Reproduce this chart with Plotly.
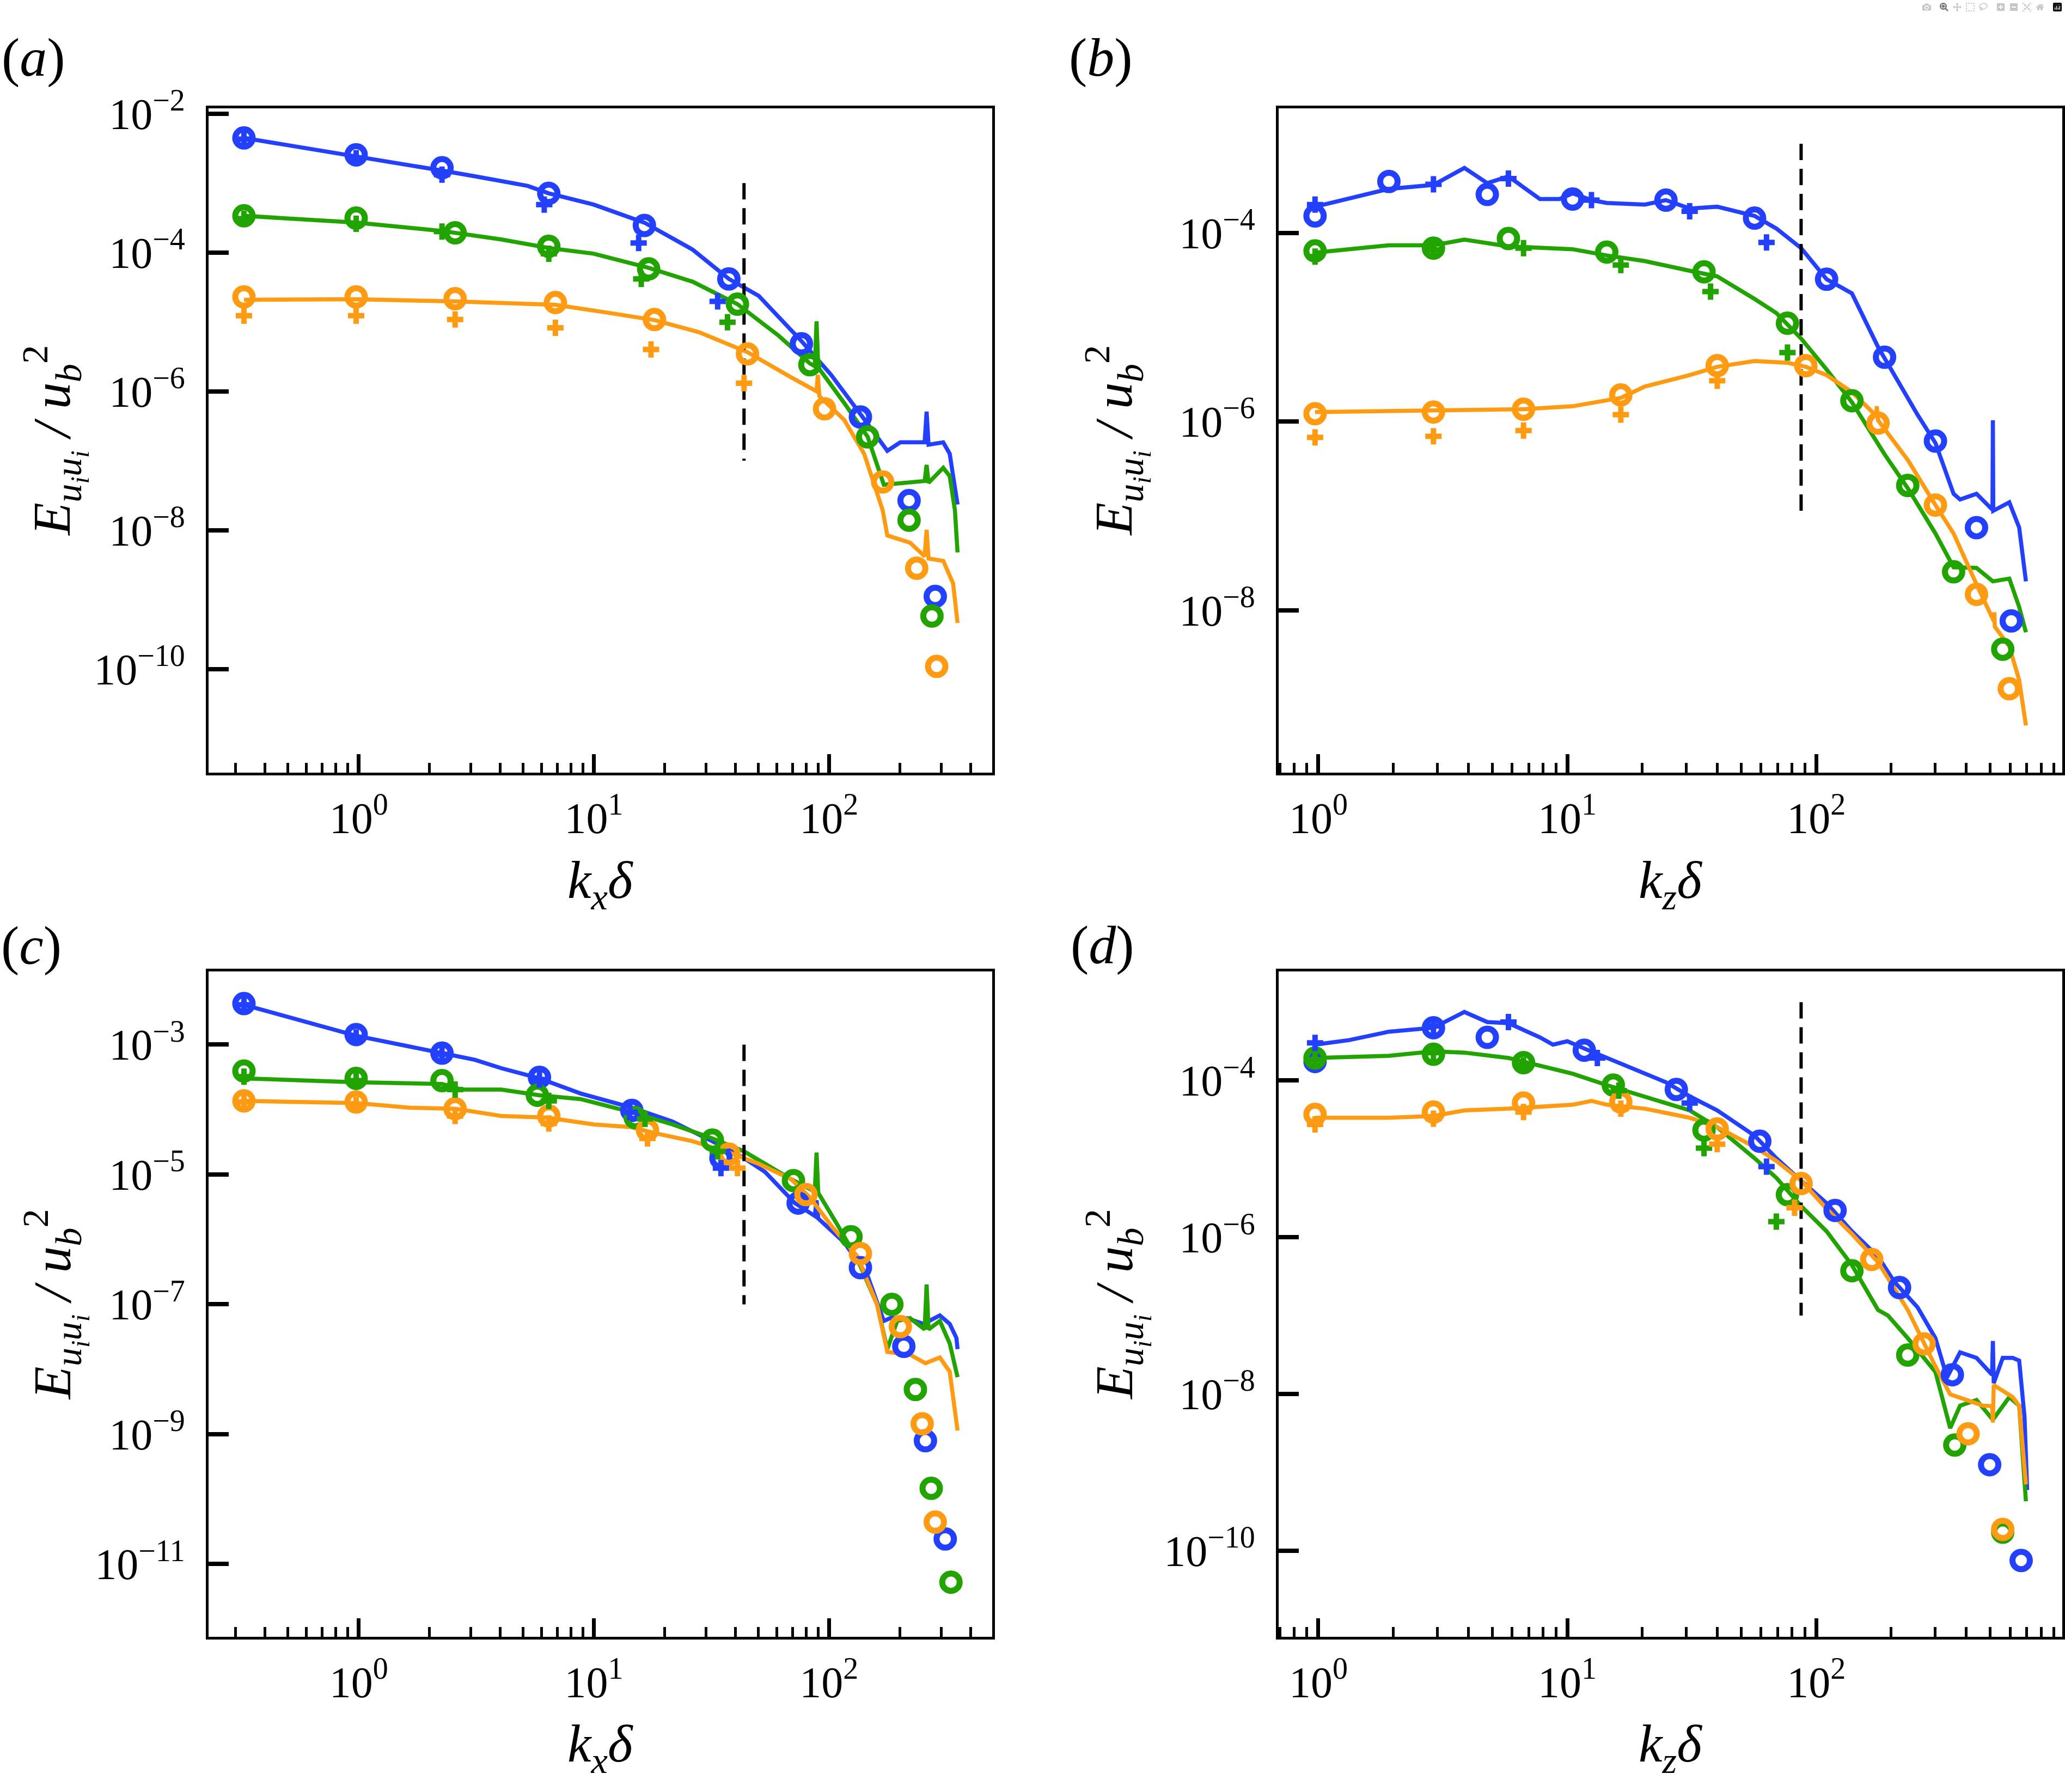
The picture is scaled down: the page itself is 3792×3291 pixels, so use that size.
import plotly.graph_objects as go

# ---------------- colours ----------------
BLUE = "#2340FF"
GREEN = "#21A300"
ORANGE = "#FF9B13"

# ---------------- panel (a): streamwise spectra ----------------
A_BLUE_LINE_K = [0.325, 0.975, 2.26, 3.12, 5.23, 6.43, 9.97, 16.4, 26.3, 37.5, 50.2, 76.3, 102, 136, 177, 201, 244, 255, 260, 265, 306, 326, 343, 352]
A_BLUE_LINE_E = [4.46e-3, 2.45e-3, 1.51e-3, 1.25e-3, 9.1e-4, 7.1e-4, 4.9e-4, 2.69e-4, 1.10e-4, 4.16e-5, 2.38e-5, 5.3e-6, 1.73e-6, 4.7e-7, 1.39e-7, 1.84e-7, 1.84e-7, 1.84e-7, 5.1e-7, 1.7e-7, 1.84e-7, 1.26e-7, 4.1e-8, 2.34e-8]
A_GREEN_LINE_K = [0.325, 0.975, 2.26, 4.04, 6.43, 9.97, 17.1, 26.3, 40.8, 60.8, 82.9, 87, 88.5, 90, 116, 146, 171, 221, 255, 260, 265, 306, 326, 343, 352]
A_GREEN_LINE_E = [3.37e-4, 2.69e-4, 2.04e-4, 1.54e-4, 1.16e-4, 9.6e-5, 6.0e-5, 3.79e-5, 1.80e-5, 6.4e-6, 2.52e-6, 2.3e-6, 1.02e-5, 2.2e-6, 6.8e-7, 2.21e-7, 4.51e-8, 4.95e-8, 5.1e-8, 8.7e-8, 4.8e-8, 7.9e-8, 6.0e-8, 1.95e-8, 4.78e-9]
A_ORANGE_LINE_K = [0.325, 0.975, 2.57, 4.04, 6.86, 11.4, 18.1, 28.0, 45.0, 69.2, 88.5, 89.6, 91, 116, 141, 169, 177, 221, 255, 260, 265, 306, 337, 352]
A_ORANGE_LINE_E = [2.08e-5, 2.12e-5, 1.97e-5, 1.86e-5, 1.76e-5, 1.36e-5, 1.06e-5, 7.1e-6, 3.66e-6, 1.58e-6, 1.0e-6, 1.73e-6, 8.5e-7, 3.88e-7, 1.26e-7, 1.95e-8, 8.4e-9, 6.6e-9, 4.2e-9, 1.01e-8, 3.9e-9, 3.61e-9, 1.71e-9, 4.6e-10]

A_BLUE_CIRC_K = [0.325, 0.975, 2.26, 6.43, 16.4, 37.5, 76.3, 136, 219, 283]
A_BLUE_CIRC_E = [4.46e-3, 2.55e-3, 1.66e-3, 7.1e-4, 2.45e-4, 4.16e-5, 4.84e-6, 4.26e-7, 2.67e-8, 1.11e-9]
A_BLUE_PLUS_K = [0.325, 0.975, 2.26, 6.15, 15.5, 33.6]
A_BLUE_PLUS_E = [4.3e-3, 2.28e-3, 1.32e-3, 4.9e-4, 1.37e-4, 1.97e-5]
A_GREEN_CIRC_K = [0.325, 0.975, 2.57, 6.43, 17.1, 40.8, 82.9, 146, 219, 274]
A_GREEN_CIRC_E = [3.37e-4, 3.13e-4, 1.92e-4, 1.23e-4, 5.8e-5, 1.80e-5, 2.42e-6, 2.21e-7, 1.39e-8, 5.8e-10]
A_GREEN_PLUS_K = [0.325, 0.975, 2.26, 6.43, 15.9, 37.0]
A_GREEN_PLUS_E = [3.07e-4, 2.59e-4, 2.0e-4, 9.6e-5, 4.16e-5, 9.9e-6]
A_ORANGE_CIRC_K = [0.325, 0.975, 2.57, 6.86, 18.1, 45.0, 95.7, 169, 236, 287]
A_ORANGE_CIRC_E = [2.29e-5, 2.29e-5, 2.16e-5, 1.90e-5, 1.08e-5, 3.46e-6, 5.6e-7, 4.95e-8, 2.83e-9, 1.09e-10]
A_ORANGE_PLUS_K = [0.325, 0.975, 2.57, 6.86, 17.5, 43.5]
A_ORANGE_PLUS_E = [1.23e-5, 1.23e-5, 1.08e-5, 8.2e-6, 4.0e-6, 1.31e-6]

# ---------------- panel (b): spanwise spectra ----------------
B_BLUE_LINE_K = [0.97, 1.92, 2.90, 3.86, 4.77, 5.80, 7.76, 9.31, 10.5, 12.5, 14.4, 20.5, 24.9, 31.0, 40.0, 56.5, 69.1, 86.9, 110, 139, 177, 188, 255, 301, 356, 378, 440, 510, 512, 514, 596, 653, 695]
B_BLUE_LINE_E = [1.89e-4, 2.92e-4, 3.22e-4, 4.87e-4, 3.36e-4, 3.96e-4, 2.28e-4, 2.28e-4, 2.62e-4, 2.22e-4, 2.07e-4, 1.99e-4, 2.22e-4, 1.81e-4, 1.89e-4, 1.51e-4, 1.11e-4, 6.88e-5, 3.22e-5, 2.28e-5, 6.17e-6, 4.68e-6, 1.18e-6, 5.91e-7, 1.71e-7, 1.49e-7, 1.71e-7, 1.16e-7, 1.03e-6, 1.13e-7, 1.39e-7, 7.5e-8, 2.02e-8]
B_GREEN_LINE_K = [0.97, 1.92, 2.90, 3.86, 5.80, 7.76, 10.5, 14.4, 20.5, 31.0, 40.0, 56.5, 69.1, 86.9, 110, 139, 188, 233, 301, 356, 440, 512, 596, 653, 695]
B_GREEN_LINE_E = [6.16e-5, 7.37e-5, 7.37e-5, 8.46e-5, 7.17e-5, 6.88e-5, 6.7e-5, 5.75e-5, 5.01e-5, 3.96e-5, 3.45e-5, 1.99e-5, 1.41e-5, 7.57e-6, 3.55e-6, 1.60e-6, 4.49e-7, 1.96e-7, 6.5e-8, 2.85e-8, 2.8e-8, 2.02e-8, 2.16e-8, 1.08e-8, 5.83e-9]
B_ORANGE_LINE_K = [0.97, 2.90, 4.77, 6.67, 10.5, 16.4, 20.5, 31.0, 40.0, 56.5, 76.6, 90.8, 110, 139, 174, 175, 177, 233, 301, 356, 440, 517, 519, 521, 596, 653, 695]
B_ORANGE_LINE_E = [1.26e-6, 1.30e-6, 1.32e-6, 1.35e-6, 1.45e-6, 1.78e-6, 2.35e-6, 3.10e-6, 3.80e-6, 4.37e-6, 4.19e-6, 3.80e-6, 3.10e-6, 2.05e-6, 1.15e-6, 1.45e-6, 1.03e-6, 3.91e-7, 1.30e-7, 6.5e-8, 1.88e-8, 7.6e-9, 9.5e-9, 6.7e-9, 4.13e-9, 1.81e-9, 6.0e-10]

B_BLUE_CIRC_K = [0.97, 1.92, 4.77, 10.5, 24.9, 56.5, 110, 188, 301, 440, 607]
B_BLUE_CIRC_E = [1.51e-4, 3.50e-4, 2.55e-4, 2.28e-4, 2.22e-4, 1.43e-4, 3.22e-5, 4.8e-6, 6.2e-7, 7.5e-8, 7.7e-9]
B_BLUE_PLUS_K = [0.97, 2.90, 5.80, 12.5, 31.0, 63.1]
B_BLUE_PLUS_E = [1.99e-4, 3.27e-4, 3.75e-4, 2.22e-4, 1.69e-4, 7.9e-5]
B_GREEN_CIRC_K = [0.97, 2.90, 5.80, 14.4, 35.4, 76.6, 139, 233, 356, 561]
B_GREEN_CIRC_E = [6.42e-5, 6.88e-5, 8.7e-5, 6.25e-5, 3.86e-5, 1.10e-5, 1.66e-6, 2.10e-7, 2.55e-8, 3.86e-9]
B_GREEN_PLUS_K = [0.97, 2.90, 6.67, 16.4, 37.6, 76.6]
B_GREEN_PLUS_E = [5.6e-5, 6.6e-5, 6.88e-5, 4.55e-5, 2.38e-5, 5.37e-6]
B_ORANGE_CIRC_K = [0.97, 2.90, 6.67, 16.4, 40.0, 90.8, 177, 301, 440, 596]
B_ORANGE_CIRC_E = [1.21e-6, 1.26e-6, 1.35e-6, 1.91e-6, 3.91e-6, 3.91e-6, 9.6e-7, 1.30e-7, 1.47e-8, 1.47e-9]
B_ORANGE_PLUS_K = [0.97, 2.90, 6.67, 16.4, 40.0]
B_ORANGE_PLUS_E = [6.79e-7, 6.97e-7, 8.0e-7, 1.18e-6, 2.70e-6]

# ---------------- panel (c): streamwise spectra ----------------
C_BLUE_LINE_K = [0.325, 0.975, 2.26, 3.12, 4.04, 5.87, 8.77, 14.5, 21.6, 31.9, 43.5, 53.5, 71.5, 87, 88.5, 90, 116, 146, 171, 182, 214, 252, 296, 326, 348, 352]
C_BLUE_LINE_E = [4.1e-3, 1.37e-3, 7.4e-4, 5.82e-4, 4.33e-4, 3.02e-4, 1.77e-4, 1.07e-4, 6.52e-5, 3.25e-5, 1.79e-5, 1.09e-5, 3.63e-6, 2.3e-6, 4.0e-6, 2.1e-6, 9.0e-7, 2.73e-7, 5.55e-8, 6.12e-8, 6.12e-8, 5.0e-8, 6.76e-8, 5.0e-8, 3.05e-8, 2.05e-8]
C_GREEN_LINE_K = [0.325, 0.975, 2.26, 2.74, 4.04, 5.87, 8.77, 14.5, 21.6, 31.9, 43.5, 53.5, 69.2, 82.9, 87, 88.5, 90, 109, 132, 160, 177, 195, 221, 255, 260, 265, 296, 326, 352]
C_GREEN_LINE_E = [3.02e-4, 2.63e-4, 2.48e-4, 2.03e-4, 2.03e-4, 1.66e-4, 1.45e-4, 9.1e-5, 5.9e-5, 3.59e-5, 2.27e-5, 1.46e-5, 8.4e-6, 5.97e-6, 5.41e-6, 2.18e-5, 5.2e-6, 1.64e-6, 4.95e-7, 1.0e-7, 2.05e-8, 5.55e-8, 6.12e-8, 4.11e-8, 2.02e-7, 4.11e-8, 5.55e-8, 2.5e-8, 7.57e-9]
C_ORANGE_LINE_K = [0.325, 0.975, 1.64, 2.57, 4.04, 6.35, 9.97, 14.5, 17.9, 26.3, 37.5, 50.2, 69.2, 82.9, 102, 132, 160, 177, 221, 257, 296, 326, 352]
C_ORANGE_LINE_E = [1.36e-4, 1.26e-4, 1.07e-4, 1.03e-4, 7.96e-5, 7.5e-5, 5.9e-5, 5.35e-5, 4.38e-5, 3.25e-5, 2.18e-5, 1.46e-5, 8.4e-6, 4.43e-6, 1.64e-6, 5.47e-7, 1.0e-7, 1.85e-8, 1.68e-8, 1.24e-8, 1.52e-8, 9.2e-9, 1.14e-9]

C_BLUE_CIRC_K = [0.325, 0.975, 2.26, 5.87, 14.5, 34.7, 73.9, 136, 208, 257, 312]
C_BLUE_CIRC_E = [4.28e-3, 1.43e-3, 7.4e-4, 3.14e-4, 9.7e-5, 1.79e-5, 3.63e-6, 3.68e-7, 2.26e-8, 7.95e-10, 2.44e-11]
C_BLUE_PLUS_K = [0.325, 0.975, 2.26, 5.87, 14.2, 34.7]
C_BLUE_PLUS_E = [4.1e-3, 1.29e-3, 7.1e-4, 2.9e-4, 9.1e-5, 1.25e-5]
C_GREEN_CIRC_K = [0.325, 0.975, 2.26, 5.75, 15.0, 31.9, 70.6, 124, 185, 233, 272, 330]
C_GREEN_CIRC_E = [3.92e-4, 3.02e-4, 2.79e-4, 1.66e-4, 7.5e-5, 3.38e-5, 8.05e-6, 1.1e-6, 1.0e-7, 4.89e-9, 1.47e-10, 5.27e-12]
C_GREEN_PLUS_K = [0.325, 0.975, 2.57, 6.43, 16.5, 33.6]
C_GREEN_PLUS_E = [3.21e-4, 2.79e-4, 2.03e-4, 1.36e-4, 7.2e-5, 2.27e-5]
C_ORANGE_CIRC_K = [0.325, 0.975, 2.57, 6.43, 16.9, 37.5, 79.8, 136, 201, 249, 283]
C_ORANGE_CIRC_E = [1.36e-4, 1.31e-4, 1.03e-4, 7.96e-5, 4.83e-5, 2.06e-5, 4.9e-6, 6.05e-7, 4.54e-8, 1.45e-9, 4.44e-11]
C_ORANGE_PLUS_K = [0.325, 0.975, 2.57, 6.43, 16.9, 40.8]
C_ORANGE_PLUS_E = [1.31e-4, 1.19e-4, 7.96e-5, 6.1e-5, 3.59e-5, 1.25e-5]

# ---------------- panel (d): spanwise spectra ----------------
D_BLUE_LINE_K = [0.97, 1.33, 1.92, 2.90, 3.86, 4.77, 5.80, 7.76, 8.76, 10.0, 11.7, 14.2, 20.5, 24.9, 31.0, 40.0, 56.5, 69.1, 86.9, 110, 139, 177, 206, 255, 301, 335, 378, 440, 508, 512, 516, 561, 615, 653, 686, 703]
D_BLUE_LINE_E = [2.87e-4, 3.28e-4, 4.2e-4, 4.72e-4, 7.5e-4, 5.57e-4, 5.4e-4, 3.56e-4, 2.87e-4, 3.17e-4, 2.56e-4, 2.0e-4, 1.22e-4, 9.5e-5, 6.29e-5, 4.16e-5, 1.98e-5, 1.02e-5, 5.27e-6, 2.72e-6, 1.19e-6, 5.66e-7, 2.69e-7, 1.28e-7, 5.15e-8, 1.62e-8, 3.4e-8, 2.89e-8, 1.76e-8, 4.74e-8, 1.37e-8, 2.89e-8, 2.89e-8, 2.66e-8, 5.1e-9, 5.94e-10]
D_GREEN_LINE_K = [0.97, 1.92, 2.90, 3.86, 5.80, 7.76, 10.5, 14.4, 20.5, 31.0, 40.0, 56.5, 69.1, 86.9, 110, 139, 177, 194, 233, 301, 345, 378, 440, 512, 596, 653, 695]
D_GREEN_LINE_E = [1.94e-4, 2.07e-4, 2.36e-4, 2.27e-4, 1.94e-4, 1.56e-4, 1.22e-4, 8.75e-5, 6.29e-5, 4.16e-5, 2.54e-5, 1.02e-5, 5.73e-6, 2.5e-6, 1.19e-6, 4.41e-7, 1.18e-7, 1.0e-7, 5.15e-8, 1.91e-8, 3.66e-9, 7.08e-9, 8.36e-9, 4.69e-9, 9.1e-9, 7.08e-9, 4.27e-10]
D_ORANGE_LINE_K = [0.97, 1.92, 2.90, 3.86, 5.80, 7.76, 10.5, 12.5, 14.4, 20.5, 31.0, 40.0, 56.5, 69.1, 86.9, 110, 139, 177, 233, 301, 345, 402, 468, 508, 512, 516, 615, 653, 695]
D_ORANGE_LINE_E = [3.35e-5, 3.35e-5, 3.53e-5, 4.16e-5, 4.37e-5, 4.67e-5, 4.91e-5, 5.5e-5, 4.91e-5, 4.37e-5, 3.35e-5, 2.54e-5, 1.42e-5, 9.4e-6, 5.27e-6, 2.31e-6, 1.1e-6, 4.8e-7, 1.18e-7, 2.25e-8, 9.87e-9, 8.36e-9, 7.08e-9, 7.0e-9, 4.32e-9, 1.3e-8, 9.1e-9, 7.08e-9, 7.0e-10]

D_BLUE_CIRC_K = [0.97, 2.90, 4.77, 11.7, 27.4, 59.3, 119, 216, 352, 497, 665]
D_BLUE_CIRC_E = [1.75e-4, 4.72e-4, 3.56e-4, 2.44e-4, 7.7e-5, 1.68e-5, 2.2e-6, 2.28e-7, 1.76e-8, 1.25e-9, 7.5e-11]
D_BLUE_PLUS_K = [0.97, 2.90, 5.80, 13.2, 31.0, 63.1]
D_BLUE_PLUS_E = [3.02e-4, 4.96e-4, 5.57e-4, 1.94e-4, 5.15e-5, 7.96e-6]
D_GREEN_CIRC_K = [0.97, 2.90, 6.67, 15.3, 35.4, 76.6, 139, 233, 360, 561]
D_GREEN_CIRC_E = [1.94e-4, 2.17e-4, 1.69e-4, 8.75e-5, 2.33e-5, 3.49e-6, 3.74e-7, 3.14e-8, 2.23e-9, 1.72e-10]
D_GREEN_PLUS_K = [0.97, 2.90, 6.67, 16.1, 35.4, 69.1]
D_GREEN_PLUS_E = [1.84e-4, 2.27e-4, 1.56e-4, 7.41e-5, 1.37e-5, 1.58e-6]
D_ORANGE_CIRC_K = [0.97, 2.90, 6.67, 16.4, 40.0, 86.9, 167, 271, 407, 561]
D_ORANGE_CIRC_E = [3.7e-5, 3.96e-5, 5.16e-5, 5.33e-5, 2.41e-5, 4.85e-6, 5.21e-7, 4.36e-8, 3.1e-9, 1.87e-10]
D_ORANGE_PLUS_K = [0.97, 2.90, 6.67, 16.4, 40.0, 81.8]
D_ORANGE_PLUS_E = [2.75e-5, 3.25e-5, 3.96e-5, 4.37e-5, 1.54e-5, 2.38e-6]

# ---------------- dashed reference lines ----------------
VLINE_KX = 43.5
VLINE_KZ = 86.9
VLINE_A_E = [1e-3, 1e-7]
VLINE_B_E = [8.8e-4, 1e-7]
VLINE_C_E = [1e-3, 1e-7]
VLINE_D_E = [1e-3, 1e-7]

# ---------------- tick labels ----------------
X_TICKS = [1, 10, 100]
X_TICKTEXT = ["10<sup>0</sup>", "10<sup>1</sup>", "10<sup>2</sup>"]
A_YTICKS = [1e-2, 1e-4, 1e-6, 1e-8, 1e-10]
A_YTICKTEXT = ["10<sup>\u22122</sup>", "10<sup>\u22124</sup>", "10<sup>\u22126</sup>", "10<sup>\u22128</sup>", "10<sup>\u221210</sup>"]
B_YTICKS = [1e-4, 1e-6, 1e-8]
B_YTICKTEXT = ["10<sup>\u22124</sup>", "10<sup>\u22126</sup>", "10<sup>\u22128</sup>"]
C_YTICKS = [1e-3, 1e-5, 1e-7, 1e-9, 1e-11]
C_YTICKTEXT = ["10<sup>\u22123</sup>", "10<sup>\u22125</sup>", "10<sup>\u22127</sup>", "10<sup>\u22129</sup>", "10<sup>\u221211</sup>"]
D_YTICKS = [1e-4, 1e-6, 1e-8, 1e-10]
D_YTICKTEXT = ["10<sup>\u22124</sup>", "10<sup>\u22126</sup>", "10<sup>\u22128</sup>", "10<sup>\u221210</sup>"]

MINOR_KX = [m * 10.0 ** p for p in (-1, 0, 1, 2) for m in range(2, 10)]

FONT = "Liberation Serif"
W, H = 3792, 3291

fig = go.Figure()


def add_panel(n, lines, circs, pluses, vline_k, vline_e):
    xr = "x" if n == 1 else "x%d" % n
    yr = "y" if n == 1 else "y%d" % n
    for (k, e), c in zip(lines, (BLUE, GREEN, ORANGE)):
        fig.add_trace(go.Scatter(x=k, y=e, mode="lines", xaxis=xr, yaxis=yr,
                                 line=dict(color=c, width=7.5), showlegend=False))
    fig.add_trace(go.Scatter(x=[vline_k, vline_k], y=vline_e, mode="lines", xaxis=xr, yaxis=yr,
                             line=dict(color="black", width=6, dash="30px,16px"), showlegend=False))
    for (k, e), c in zip(circs, (BLUE, GREEN, ORANGE)):
        fig.add_trace(go.Scatter(x=k, y=e, mode="markers", xaxis=xr, yaxis=yr,
                                 marker=dict(symbol="circle-open", size=32, color=c,
                                             line=dict(color=c, width=11)), showlegend=False))
    for (k, e), c in zip(pluses, (BLUE, GREEN, ORANGE)):
        fig.add_trace(go.Scatter(x=k, y=e, mode="markers", xaxis=xr, yaxis=yr,
                                 marker=dict(symbol="cross", size=25, color=c,
                                             line=dict(width=0)), showlegend=False))


add_panel(1,
          [(A_BLUE_LINE_K, A_BLUE_LINE_E), (A_GREEN_LINE_K, A_GREEN_LINE_E), (A_ORANGE_LINE_K, A_ORANGE_LINE_E)],
          [(A_BLUE_CIRC_K, A_BLUE_CIRC_E), (A_GREEN_CIRC_K, A_GREEN_CIRC_E), (A_ORANGE_CIRC_K, A_ORANGE_CIRC_E)],
          [(A_BLUE_PLUS_K, A_BLUE_PLUS_E), (A_GREEN_PLUS_K, A_GREEN_PLUS_E), (A_ORANGE_PLUS_K, A_ORANGE_PLUS_E)],
          VLINE_KX, VLINE_A_E)
add_panel(2,
          [(B_BLUE_LINE_K, B_BLUE_LINE_E), (B_GREEN_LINE_K, B_GREEN_LINE_E), (B_ORANGE_LINE_K, B_ORANGE_LINE_E)],
          [(B_BLUE_CIRC_K, B_BLUE_CIRC_E), (B_GREEN_CIRC_K, B_GREEN_CIRC_E), (B_ORANGE_CIRC_K, B_ORANGE_CIRC_E)],
          [(B_BLUE_PLUS_K, B_BLUE_PLUS_E), (B_GREEN_PLUS_K, B_GREEN_PLUS_E), (B_ORANGE_PLUS_K, B_ORANGE_PLUS_E)],
          VLINE_KZ, VLINE_B_E)
add_panel(3,
          [(C_BLUE_LINE_K, C_BLUE_LINE_E), (C_GREEN_LINE_K, C_GREEN_LINE_E), (C_ORANGE_LINE_K, C_ORANGE_LINE_E)],
          [(C_BLUE_CIRC_K, C_BLUE_CIRC_E), (C_GREEN_CIRC_K, C_GREEN_CIRC_E), (C_ORANGE_CIRC_K, C_ORANGE_CIRC_E)],
          [(C_BLUE_PLUS_K, C_BLUE_PLUS_E), (C_GREEN_PLUS_K, C_GREEN_PLUS_E), (C_ORANGE_PLUS_K, C_ORANGE_PLUS_E)],
          VLINE_KX, VLINE_C_E)
add_panel(4,
          [(D_BLUE_LINE_K, D_BLUE_LINE_E), (D_GREEN_LINE_K, D_GREEN_LINE_E), (D_ORANGE_LINE_K, D_ORANGE_LINE_E)],
          [(D_BLUE_CIRC_K, D_BLUE_CIRC_E), (D_GREEN_CIRC_K, D_GREEN_CIRC_E), (D_ORANGE_CIRC_K, D_ORANGE_CIRC_E)],
          [(D_BLUE_PLUS_K, D_BLUE_PLUS_E), (D_GREEN_PLUS_K, D_GREEN_PLUS_E), (D_ORANGE_PLUS_K, D_ORANGE_PLUS_E)],
          VLINE_KZ, VLINE_D_E)

# ---------------- axes ----------------
COL_DOM = [[383 / W, 1823 / W], [2349 / W, 3789 / W]]
ROW_DOM = [[1 - 1392 / H, 1 - 155 / H], [1 - 3002 / H, 1 - 1763 / H]]
X_RANGES = [[-0.639, 2.694], [-0.16, 2.988], [-0.639, 2.694], [-0.16, 2.988]]
Y_RANGES = [[-11.49, -1.923], [-9.72, -2.68], [-12.12, -1.876], [-11.10, -2.61]]
Y_TICKS = [(A_YTICKS, A_YTICKTEXT), (B_YTICKS, B_YTICKTEXT), (C_YTICKS, C_YTICKTEXT), (D_YTICKS, D_YTICKTEXT)]

tickfont = dict(family=FONT, size=80, color="black")
for i in range(4):
    n = i + 1
    col = i % 2
    row = i // 2
    xname = "xaxis" if n == 1 else "xaxis%d" % n
    yname = "yaxis" if n == 1 else "yaxis%d" % n
    fig.layout[xname] = dict(
        type="log", domain=COL_DOM[col], range=X_RANGES[i],
        anchor="y" if n == 1 else "y%d" % n,
        showline=True, linewidth=5, linecolor="black", mirror=True,
        showgrid=False, zeroline=False,
        ticks="inside", ticklen=34, tickwidth=7, tickcolor="black",
        tickmode="array", tickvals=X_TICKS, ticktext=X_TICKTEXT,
        tickfont=tickfont, ticklabelstandoff=10,
        minor=dict(ticks="inside", ticklen=18, tickwidth=5, tickcolor="black",
                   tickmode="array", tickvals=MINOR_KX, showgrid=False),
    )
    fig.layout[yname] = dict(
        type="log", domain=ROW_DOM[row], range=Y_RANGES[i],
        anchor="x" if n == 1 else "x%d" % n,
        showline=True, linewidth=5, linecolor="black", mirror=True,
        showgrid=False, zeroline=False,
        ticks="inside", ticklen=37, tickwidth=8, tickcolor="black",
        tickmode="array", tickvals=Y_TICKS[i][0], ticktext=Y_TICKS[i][1],
        tickfont=tickfont, ticklabelstandoff=22,
    )

# ---------------- titles and panel labels ----------------
YTITLE = ("<i>E</i><sub><i>u</i><sub><i>i</i></sub><i>u</i><sub><i>i</i></sub></sub>"
          "<i> / u</i><sub><i>b</i></sub><sup>2</sup>")
XTITLES = ["<i>k</i><sub><i>x</i></sub><i>\u03b4</i>", "<i>k</i><sub><i>z</i></sub><i>\u03b4</i>"]
PANEL_LABELS = ["(<i>a</i>)", "(<i>b</i>)", "(<i>c</i>)", "(<i>d</i>)"]
LABEL_POS = [(62, 60), (2023, 60), (58, 1714), (2026, 1713)]
YTITLE_X = [100, 2051]
XTITLE_Y = [1600, 3208]

ann = []
for i in range(4):
    col = i % 2
    row = i // 2
    ann.append(dict(text=YTITLE, textangle=-90, xref="paper", yref="paper",
                    x=YTITLE_X[col] / W, y=sum(ROW_DOM[row]) / 2,
                    xanchor="center", yanchor="middle", showarrow=False,
                    font=dict(family=FONT, size=98, color="black")))
    ann.append(dict(text=XTITLES[col], xref="paper", yref="paper",
                    x=sum(COL_DOM[col]) / 2, y=1 - XTITLE_Y[row] / H,
                    xanchor="center", yanchor="middle", showarrow=False,
                    font=dict(family=FONT, size=98, color="black")))
    lx, ly = LABEL_POS[i]
    ann.append(dict(text=PANEL_LABELS[i], xref="paper", yref="paper",
                    x=lx / W, y=1 - ly / H, xanchor="center", yanchor="middle",
                    showarrow=False, font=dict(family=FONT, size=100, color="black")))

fig.update_layout(width=W, height=H, margin=dict(l=0, r=0, t=0, b=0),
                  paper_bgcolor="white", plot_bgcolor="white",
                  annotations=ann, showlegend=False)

fig.write_html("out.html", post_script="document.body.style.margin='0px';")
